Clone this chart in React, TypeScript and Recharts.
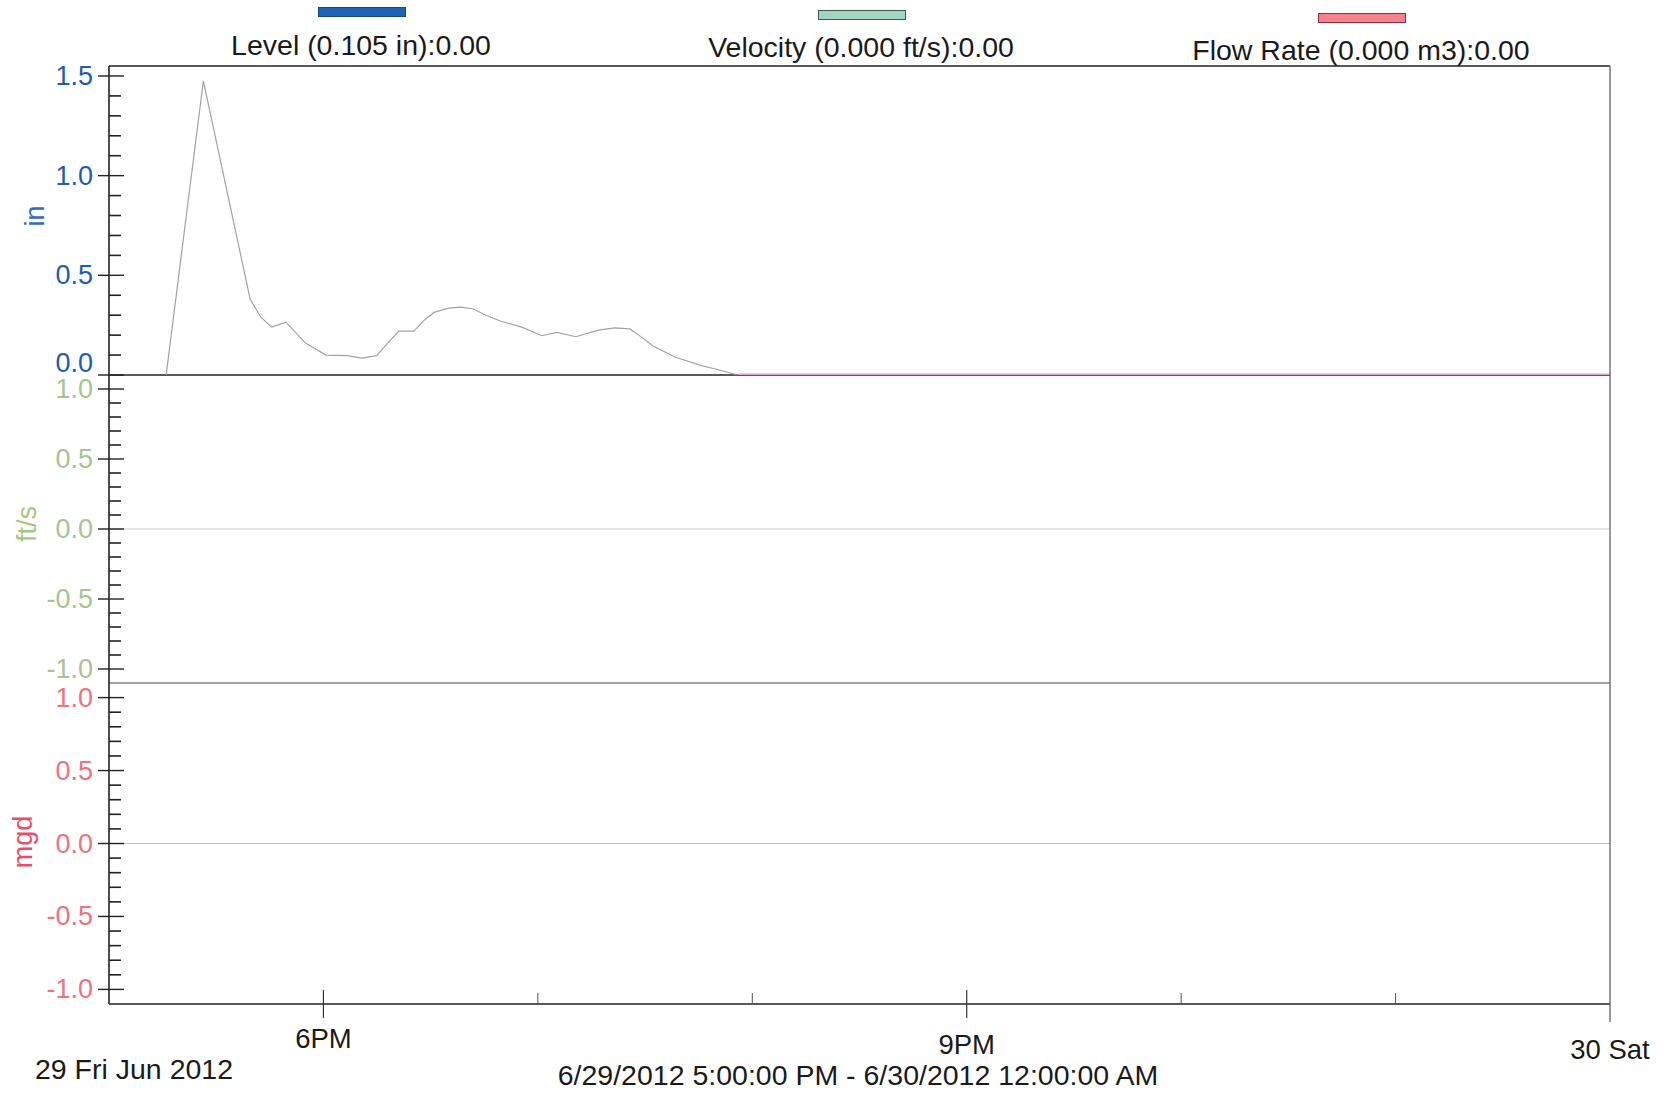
import React from "react";
import { LineChart, Line, XAxis, YAxis } from "recharts";

const W = 1665;
const H = 1093;
const PLOT_LEFT = 109;
const PLOT_RIGHT = 1610;
const AXIS_Y = 1004;
const FONT = "'Liberation Sans', Arial, sans-serif";

// minutes after 5:00 PM on 6/29/2012
const LEVEL_MINUTES = [
  16, 26.4, 39.5, 42.5, 45.5, 49.5, 55, 60.7, 66.5, 70.7, 74.9, 78.5, 81.1, 85.3, 88.5, 91, 95, 98.5,
  102, 105.5, 109.3, 115.7, 121.1, 125.3, 130.6, 137, 141.5, 145.7, 149, 152.1, 158.5, 165.8, 169.7, 176, 420,
];
const LEVEL_IN = [
  0, 1.475, 0.38, 0.29, 0.24, 0.265, 0.16, 0.1, 0.097, 0.085, 0.097, 0.17, 0.22, 0.22, 0.28, 0.314, 0.335, 0.34,
  0.331, 0.3, 0.272, 0.239, 0.197, 0.214, 0.192, 0.225, 0.236, 0.231, 0.19, 0.147, 0.089, 0.047, 0.03, 0, 0,
];
const VELOCITY_MINUTES = [0, 420];
const VELOCITY_FTS = [0, 0];
const FLOW_MINUTES = [0, 420];
const FLOW_MGD = [0, 0];

const TIME_TICKS = [0, 60, 120, 180, 240, 300, 360, 420];
const TIME_LABELS: Record<number, string> = { 60: "6PM", 240: "9PM", 420: "30 Sat" };
const LEVEL_TICKS = [0, 0.1, 0.2, 0.3, 0.4, 0.5, 0.6, 0.7, 0.8, 0.9, 1.0, 1.1, 1.2, 1.3, 1.4, 1.5];
const SIGNED_TICKS = [
  -1.0, -0.9, -0.8, -0.7, -0.6, -0.5, -0.4, -0.3, -0.2, -0.1, 0, 0.1, 0.2, 0.3, 0.4, 0.5, 0.6, 0.7, 0.8, 0.9, 1.0,
];

const LEGEND = [
  { text: "Level (0.105 in):0.00", cx: 361, cy: 45, sw: [318, 7], fill: "#1f63b8", border: "#17487f" },
  { text: "Velocity (0.000 ft/s):0.00", cx: 861, cy: 47, sw: [818, 10], fill: "#a3d6c0", border: "#3d5a50" },
  { text: "Flow Rate (0.000 m3):0.00", cx: 1361, cy: 50, sw: [1318, 13], fill: "#f5838f", border: "#8a3040" },
];

// the scanned page is slightly skewed, so the time labels drift down to the right
const LABEL_DROP: Record<number, number> = { 60: -2, 240: 4, 420: 9 };

const levelData = LEVEL_MINUTES.map((t, i) => ({ t, level: LEVEL_IN[i] }));
const velocityData = VELOCITY_MINUTES.map((t, i) => ({ t, v: VELOCITY_FTS[i] }));
const flowData = FLOW_MINUTES.map((t, i) => ({ t, q: FLOW_MGD[i] }));

function YTick(props: any) {
  const { y, payload, color, liftZero } = props;
  const v = payload.value;
  const major = Math.abs(v * 2 - Math.round(v * 2)) < 1e-6;
  const dy = liftZero && Math.abs(v) < 1e-6 ? -12 : 0;
  return (
    <g>
      <line
        x1={major ? 98 : PLOT_LEFT}
        x2={major ? 124 : 121}
        y1={y}
        y2={y}
        stroke="#222"
        strokeWidth={major ? 1.4 : 1.6}
      />
      {major && (
        <text
          x={93}
          y={y + dy}
          textAnchor="end"
          dominantBaseline="central"
          fontSize={27}
          fontFamily={FONT}
          fill={color}
        >
          {v.toFixed(1)}
        </text>
      )}
    </g>
  );
}

function XTick(props: any) {
  const { x, payload } = props;
  const v = payload.value;
  const label = TIME_LABELS[v];
  let mark = null;
  if (v === 420) mark = <line x1={x} x2={x} y1={AXIS_Y} y2={AXIS_Y + 18} stroke="#555" strokeWidth={1.2} />;
  else if (label) mark = <line x1={x} x2={x} y1={AXIS_Y - 14} y2={AXIS_Y + 14} stroke="#333" strokeWidth={1.2} />;
  else if (v > 0) mark = <line x1={x} x2={x} y1={AXIS_Y - 11} y2={AXIS_Y} stroke="#555" strokeWidth={1} />;
  return (
    <g>
      {mark}
      {label && (
        <text
          x={x}
          y={AXIS_Y + 46 + (LABEL_DROP[v] || 0)}
          textAnchor="middle"
          fontSize={27.5}
          fontFamily={FONT}
          fill="#1a1a1a"
        >
          {label}
        </text>
      )}
    </g>
  );
}

function UnitLabel({ unitText, ux, uy, ucolor }: any) {
  return (
    <text
      x={ux}
      y={uy}
      transform={`rotate(-90 ${ux} ${uy})`}
      textAnchor="middle"
      dominantBaseline="central"
      fontSize={27}
      fontFamily={FONT}
      fill={ucolor}
    >
      {unitText}
    </text>
  );
}

type PanelProps = {
  top: number;
  bottom: number;
  data: any[];
  domain: [number, number];
  ticks: number[];
  color: string;
  unit: { text: string; x: number; y: number; color: string };
  topBorder?: boolean;
  topStroke?: string;
  timeAxis?: boolean;
  liftZero?: boolean;
  bottomStroke: string;
  bottomWidth: number;
  children: React.ReactNode;
};

function Panel(p: PanelProps) {
  return (
    <div style={{ position: "absolute", left: 0, top: 0 }}>
      <LineChart
        width={W}
        height={H}
        data={p.data}
        margin={{
          top: p.topBorder ? p.top - 1 : p.top,
          bottom: H - p.bottom - 1,
          left: 0,
          right: W - PLOT_RIGHT - 1,
        }}
      >
        <XAxis
          dataKey="t"
          type="number"
          domain={[0, 420]}
          allowDataOverflow
          height={1}
          ticks={TIME_TICKS}
          interval={0}
          tickLine={false}
          tick={p.timeAxis ? (tp: any) => <XTick {...tp} /> : () => <g />}
          axisLine={{ stroke: p.bottomStroke, strokeWidth: p.bottomWidth }}
        />
        {p.topBorder && (
          <XAxis
            xAxisId="top"
            orientation="top"
            dataKey="t"
            type="number"
            domain={[0, 420]}
            height={1}
            ticks={TIME_TICKS}
            tick={() => <g />}
            tickLine={false}
            axisLine={{ stroke: p.topStroke || "#222", strokeWidth: 1.7 }}
          />
        )}
        <YAxis
          type="number"
          domain={p.domain}
          allowDataOverflow
          width={PLOT_LEFT}
          ticks={p.ticks}
          interval={0}
          tickLine={false}
          tick={(tp: any) => <YTick {...tp} color={p.color} liftZero={p.liftZero} />}
          axisLine={{ stroke: "#222", strokeWidth: 1.6 }}
          label={<UnitLabel unitText={p.unit.text} ux={p.unit.x} uy={p.unit.y} ucolor={p.unit.color} />}
        />
        <YAxis
          yAxisId="r"
          orientation="right"
          type="number"
          domain={p.domain}
          width={1}
          ticks={[0]}
          tick={() => <g />}
          tickLine={false}
          axisLine={{ stroke: "#555", strokeWidth: 1.2 }}
        />
        {p.children}
      </LineChart>
    </div>
  );
}

export default function App() {
  return (
    <div
      style={{
        position: "absolute",
        left: 0,
        top: 0,
        width: W,
        height: H,
        background: "#fff",
        fontFamily: FONT,
        color: "#1a1a1a",
        overflow: "hidden",
      }}
    >
      {LEGEND.map((l) => (
        <React.Fragment key={l.text}>
          <div
            style={{
              position: "absolute",
              left: l.sw[0],
              top: l.sw[1],
              width: 86,
              height: 8,
              background: l.fill,
              border: `1px solid ${l.border}`,
            }}
          />
          <div
            style={{
              position: "absolute",
              left: l.cx - 250,
              width: 500,
              top: l.cy - 17,
              lineHeight: "34px",
              fontSize: 28.5,
              textAlign: "center",
              whiteSpace: "nowrap",
            }}
          >
            {l.text}
          </div>
        </React.Fragment>
      ))}

      <Panel
        top={683}
        bottom={AXIS_Y}
        data={flowData}
        domain={[-1.1, 1.1]}
        ticks={SIGNED_TICKS}
        color="#ec7480"
        unit={{ text: "mgd", x: 23, y: 842, color: "#e84d6c" }}
        timeAxis
        bottomStroke="#222"
        bottomWidth={1.6}
      >
        <Line
          dataKey="q"
          type="linear"
          stroke="#c7b9c2"
          strokeWidth={1.2}
          dot={false}
          isAnimationActive={false}
        />
      </Panel>

      <Panel
        top={375}
        bottom={683}
        data={velocityData}
        domain={[-1.1, 1.1]}
        ticks={SIGNED_TICKS}
        color="#a9c392"
        unit={{ text: "ft/s", x: 27, y: 524, color: "#9fca80" }}
        topBorder
        topStroke="#222"
        bottomStroke="#444"
        bottomWidth={1.2}
      >
        <Line
          dataKey="v"
          type="linear"
          stroke="#cbcdc1"
          strokeWidth={1.2}
          dot={false}
          isAnimationActive={false}
        />
      </Panel>

      {/* level panel drawn last so its flat line sits over the separator */}
      <Panel
        top={66}
        bottom={375}
        data={levelData}
        domain={[0, 1.55]}
        ticks={LEVEL_TICKS}
        color="#1d5cb0"
        unit={{ text: "in", x: 35, y: 216, color: "#3769c0" }}
        topBorder
        liftZero
        bottomStroke="transparent"
        bottomWidth={0}
      >
        <Line
          dataKey="level"
          type="linear"
          stroke="#a2a2a2"
          strokeWidth={1.2}
          dot={false}
          isAnimationActive={false}
        />
        <Line
          dataKey={(d: any) => (d.t >= 176 ? d.level : null)}
          type="linear"
          stroke="#d9a3d6"
          strokeWidth={3}
          dot={false}
          isAnimationActive={false}
        />
      </Panel>

      <div
        style={{ position: "absolute", left: 35, top: 1052, fontSize: 28.5, lineHeight: "34px", whiteSpace: "nowrap" }}
      >
        29 Fri Jun 2012
      </div>
      <div
        style={{
          position: "absolute",
          left: 858 - 400,
          width: 800,
          top: 1058,
          fontSize: 28.5,
          lineHeight: "34px",
          textAlign: "center",
          whiteSpace: "nowrap",
        }}
      >
        6/29/2012 5:00:00 PM - 6/30/2012 12:00:00 AM
      </div>
    </div>
  );
}
